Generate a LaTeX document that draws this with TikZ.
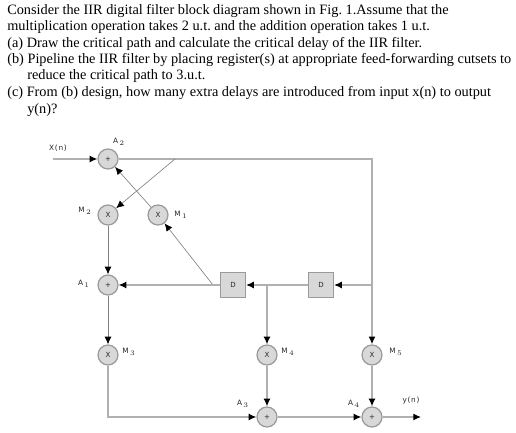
\documentclass[tikz,border=0pt]{standalone}
\usepackage{fontspec}
\setmainfont{Liberation Serif}
\newfontfamily\figfont[LetterSpace=10]{DejaVu Sans}
\usetikzlibrary{arrows.meta}
\frenchspacing
\definecolor{linegray}{HTML}{B0B0B0}
\definecolor{darkline}{HTML}{808080}
\definecolor{blockfill}{HTML}{D8D8D8}
\definecolor{blockdraw}{HTML}{9A9A9A}
\tikzset{
  q-line/.style={anchor=base west, inner sep=0pt, font=\fontsize{10.18pt}{12pt}\selectfont},
  fig-label/.style={font=\figfont\fontsize{5.2pt}{6pt}\selectfont, inner sep=0pt, text=black!85},
  fig-op/.style={circle, minimum size=0.5cm, inner sep=0pt, draw=blockdraw, fill=blockfill, line width=0.9pt, font=\figfont\fontsize{5pt}{6pt}\selectfont, text=black!85},
  fig-delay/.style={rectangle, minimum size=0.62cm, inner sep=0pt, draw=blockdraw, fill=blockfill, line width=1pt, font=\figfont\fontsize{5pt}{6pt}\selectfont, text=black!85},
  fig-wire/.style={draw=linegray, line width=0.9pt},
  fig-arrow/.style={fig-wire, -{Latex[black, length=5.5pt, width=5pt]}},
  fig-thin/.style={draw=darkline, line width=0.45pt, -{Latex[black, length=5.5pt, width=5pt]}},
  fig-dark/.style={draw=darkline, line width=0.6pt, -{Latex[black, length=5.5pt, width=5pt]}},
}
\begin{document}
\begin{tikzpicture}[x=0.025cm, y=-0.025cm]
    \useasboundingbox (0,0) rectangle (516,433);

    % Question text
    \node[q-line] (l1) at (7, 15)    {Consider the IIR digital filter block diagram shown in Fig. 1.Assume that the};
    \node[q-line] (l2) at (7, 31)    {multiplication operation takes 2 u.t. and the addition operation takes 1 u.t.};
    \node[q-line] (l3) at (7, 47.5)  {(a) Draw the critical path and calculate the critical delay of the IIR filter.};
    \node[q-line] (l4) at (7, 64)    {(b) Pipeline the IIR filter by placing register(s) at appropriate feed-forwarding cutsets to};
    \node[q-line] (l5) at (27, 80)   {reduce the critical path to 3.u.t.};
    \node[q-line] (l6) at (7, 97)    {(c) From (b) design, how many extra delays are introduced from input x(n) to output};
    \node[q-line] (l7) at (27, 113.5) {y(n)?};

    % Nodes: adders
    \node[fig-op] (a2) at (108, 159) {+};
    \node[fig-op] (a1) at (108, 285) {+};
    \node[fig-op] (a3) at (267, 417) {+};
    \node[fig-op] (a4) at (372, 417) {+};

    % Nodes: multipliers
    \node[fig-op] (m2) at (108, 215) {X};
    \node[fig-op] (m1) at (158, 215) {X};
    \node[fig-op] (m3) at (108, 355) {X};
    \node[fig-op] (m4) at (267, 355) {X};
    \node[fig-op] (m5) at (372, 355) {X};

    % Nodes: delays
    \node[fig-delay] (d1) at (233, 285) {D};
    \node[fig-delay] (d2) at (321, 285) {D};

    % Free ends and branch points
    \coordinate (in)    at (53, 159);
    \coordinate (out)   at (421, 417);
    \coordinate (topr)  at (372, 159);
    \coordinate (tapt)  at (175, 159);
    \coordinate (tapd)  at (213, 285);
    \coordinate (tapm)  at (267, 285);
    \coordinate (tapr)  at (372, 285);
    \coordinate (botl)  at (108, 417);

    % Edges: top loop
    \draw[fig-arrow] (in) -- (a2);
    \draw[fig-arrow, line width=1.2pt] (a2) -- (topr) -- (m5);
    \draw[fig-thin] (tapt) -- (m2);
    \draw[fig-thin] (m1) -- (a2);
    \draw[fig-thin] (tapd) -- (m1);

    % Edges: left column
    \draw[fig-dark] (m2) -- (a1);
    \draw[fig-dark] (a1) -- (m3);
    \draw[fig-arrow] (d1) -- (a1);
    \draw[fig-arrow] (m3.south) -- (botl) -- (a3);

    % Edges: delay line
    \draw[fig-arrow] (tapr) -- (d2);
    \draw[fig-arrow] (d2) -- (d1);
    \draw[fig-arrow] (tapm) -- (m4);

    % Edges: output side
    \draw[fig-arrow] (m4) -- (a3);
    \draw[fig-arrow] (m5) -- (a4);
    \draw[fig-arrow] (a3) -- (a4);
    \draw[fig-arrow] (a4) -- (out);

    % Labels
    \node[fig-label] (xn) at (58, 148)   {X(n)};
    \node[fig-label] (yn) at (411, 400)  {y(n)};
    \node[fig-label] (la2) at (119, 142) {A\,$_{2}$};
    \node[fig-label] (la1) at (84, 284)  {A\,$_{1}$};
    \node[fig-label] (la3) at (243, 404) {A\,$_{3}$};
    \node[fig-label] (la4) at (354, 404) {A\,$_{4}$};
    \node[fig-label] (lm2) at (85, 211)  {M\,$_{2}$};
    \node[fig-label] (lm1) at (181, 215) {M\,$_{1}$};
    \node[fig-label] (lm3) at (129, 352) {M\,$_{3}$};
    \node[fig-label] (lm4) at (288, 352) {M\,$_{4}$};
    \node[fig-label] (lm5) at (396, 352) {M\,$_{5}$};
\end{tikzpicture}
\end{document}
